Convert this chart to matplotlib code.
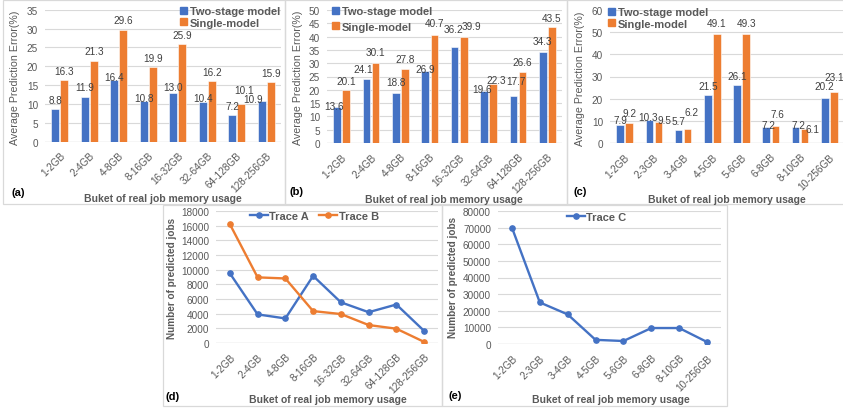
import matplotlib
matplotlib.use('Agg')
import matplotlib.pyplot as plt
from matplotlib.patches import Rectangle
from matplotlib.lines import Line2D
import numpy as np

plt.rcParams['font.family'] = ['Liberation Sans', 'DejaVu Sans']

# ---------------- data ----------------
cats_ab = ['1-2GB', '2-4GB', '4-8GB', '8-16GB', '16-32GB', '32-64GB', '64-128GB', '128-256GB']
cats_c = ['1-2GB', '2-3GB', '3-4GB', '4-5GB', '5-6GB', '6-8GB', '8-10GB', '10-256GB']

a_two = [8.8, 11.9, 16.4, 10.8, 13.0, 10.4, 7.2, 10.9]
a_single = [16.3, 21.3, 29.6, 19.9, 25.9, 16.2, 10.1, 15.9]
b_two = [13.6, 24.1, 18.8, 26.9, 36.2, 19.6, 17.7, 34.3]
b_single = [20.1, 30.1, 27.8, 40.7, 39.9, 22.3, 26.6, 43.5]
c_two = [7.9, 10.3, 5.7, 21.5, 26.1, 7.2, 7.2, 20.2]
c_single = [9.2, 9.5, 6.2, 49.1, 49.3, 7.6, 6.1, 23.1]

trace_a = [9500, 3900, 3350, 9150, 5550, 4200, 5250, 1650]
trace_b = [16200, 8950, 8800, 4350, 3950, 2450, 1950, 150]
trace_c = [70000, 25000, 17800, 2500, 1800, 9600, 9600, 1200]

series_names = ['Two-stage model', 'Single-model']

# data-label offsets in pixels (style only): dy = label centre above bar top, dx = shift
dy_a_two = [9, 10, 3, 3, 6, 4, 9, 2]
dy_a_single = [9, 10, 10, 9, 9, 9, 14, 9]
dx_a_two = [0, 0, 0, 0, 0, 0, 0, -9]
dx_a_single = [0, 0, 0, 0, 0, 0, 3, 0]
dy_b_two = [1, 10, 11, 2, 18, 2, 15, 11]
dy_b_single = [9, 11, 10, 12, 11, 4, 10, 9]
dx_b_two = [-3, -3, 0, 0, -1, -2, 3, 0]
dx_b_single = [0, 0, 0, 0, 8, 3, 0, 0]
dy_c_two = [5, 3, 9, 9, 9, 2, 2, 12]
dy_c_single = [10, 2, 17, 11, 11, 12, 0, 15]
dx_c_two = [0, -1, 0, 0, 0, 2, 3, 0]
dx_c_single = [0, 6, 4, 0, 0, 2, 8, 0]

# ---------------- style ----------------
W, H = 843, 410
BLUE = '#4472C4'
ORANGE = '#ED7D31'
GRID = '#D9D9D9'
TXT = '#595959'
LBL = '#404040'

fig = plt.figure(figsize=(W / 100, H / 100), dpi=100)


def px_axes(l, t, r, b):
    return fig.add_axes([l / W, 1 - b / H, (r - l) / W, (b - t) / H])


def ftext(x, y, s, **kw):
    fig.text(x / W, 1 - y / H, s, **kw)


def frame(x0, y0, x1, y1):
    fig.add_artist(Rectangle((x0 / W, 1 - y1 / H), (x1 - x0) / W, (y1 - y0) / H,
                             transform=fig.transFigure, fill=False,
                             ec=GRID, lw=0.9))


def style_axes(ax, cats, ymax, ystep):
    for s in ax.spines.values():
        s.set_visible(False)
    ax.set_ylim(0, ymax)
    ax.set_yticks(np.arange(0, ymax + ystep / 2, ystep))
    ax.yaxis.grid(True, color=GRID, lw=0.8)
    ax.set_axisbelow(True)
    ax.axhline(0, color='#CFCFCF', lw=0.9, zorder=1)
    ax.tick_params(axis='both', length=0, labelsize=7.2, labelcolor=TXT)
    ax.tick_params(axis='y', pad=5)
    ax.tick_params(axis='x', pad=6)
    x = np.arange(len(cats))
    ax.set_xticks(x)
    ax.set_xticklabels(cats, rotation=45, ha='right', rotation_mode='anchor')
    ax.set_facecolor('none')
    return x


frame(3, 1, 285, 205)
frame(285, 1, 567, 205)
frame(567, 1, 846, 205)
frame(163, 206, 442, 407)
frame(442, 206, 727, 407)


def bar_panel(rect, cats, two, single, ymax, ystep, dyt, dys, dxt, dxs, leg_xy, leg_sp,
              tag, tag_xy, xl_xy, yl_xy, xlim_right=7.5):
    ax = px_axes(*rect)
    x = style_axes(ax, cats, ymax, ystep)
    ax.set_xlim(-0.5, xlim_right)
    w = 0.26
    off = 0.155
    ax.bar(x - off, two, w, color=BLUE, ec='white', lw=0.4, zorder=2)
    ax.bar(x + off, single, w, color=ORANGE, ec='white', lw=0.4, zorder=2)
    for xi, v, d, e in zip(x, two, dyt, dxt):
        ax.annotate(f'{v:.1f}', (xi - off, v), xytext=(e * 0.72, d * 0.72),
                    textcoords='offset points', ha='center', va='center',
                    fontsize=7.2, color=LBL, zorder=4)
    for xi, v, d, e in zip(x, single, dys, dxs):
        ax.annotate(f'{v:.1f}', (xi + off, v), xytext=(e * 0.72, d * 0.72),
                    textcoords='offset points', ha='center', va='center',
                    fontsize=7.2, color=LBL, zorder=4)
    handles = [Rectangle((0, 0), 1, 1, color=BLUE), Rectangle((0, 0), 1, 1, color=ORANGE)]
    fig.legend(handles, series_names, loc='upper left',
               bbox_to_anchor=(leg_xy[0] / W, 1 - leg_xy[1] / H),
               frameon=False, prop=dict(weight='bold', size=8), labelcolor=TXT,
               handlelength=0.6, handleheight=0.6, handletextpad=0.3,
               borderpad=0, borderaxespad=0, labelspacing=leg_sp)
    ftext(*tag_xy, tag, fontsize=8, fontweight='bold', color='black', ha='left', va='center')
    ftext(*xl_xy, 'Buket of real job memory usage', fontsize=7.5, fontweight='bold',
          color=TXT, ha='center', va='center')
    ftext(*yl_xy, 'Average Prediction Error(%)', fontsize=7.7, color=TXT,
          ha='center', va='center', rotation=90)
    return ax


bar_panel((45, 10.7, 281, 142.7), cats_ab, a_two, a_single, 35, 5,
          dy_a_two, dy_a_single, dx_a_two, dx_a_single,
          (180, 7), 0.15, '(a)', (12, 193), (163, 199), (15, 78))
bar_panel((327, 11, 562, 144), cats_ab, b_two, b_single, 50, 5,
          dy_b_two, dy_b_single, dx_b_two, dx_b_single,
          (332, 7), 0.5, '(b)', (289, 192), (444, 200), (298, 78))
bar_panel((610, 11, 843, 144), cats_c, c_two, c_single, 60, 10,
          dy_c_two, dy_c_single, dx_c_two, dx_c_single,
          (608, 8), 0.15, '(c)', (574, 192), (727, 200), (580, 79), xlim_right=7.47)


def line_panel(rect, cats, series, colors, names, ymax, ystep, leg_xy, tag, tag_xy, xl_xy, yl_xy):
    ax = px_axes(*rect)
    x = style_axes(ax, cats, ymax, ystep)
    ax.set_xlim(-0.5, 7.5)
    for s, c in zip(series, colors):
        ax.plot(x, s, color=c, lw=1.7, marker='o', ms=3.8, zorder=3)
    handles = [Line2D([], [], color=c, lw=1.7, marker='o', ms=3.8) for c in colors]
    fig.legend(handles, names, loc='upper left',
               bbox_to_anchor=(leg_xy[0] / W, 1 - leg_xy[1] / H), ncol=len(names),
               frameon=False, prop=dict(weight='bold', size=8), labelcolor=TXT,
               handlelength=1.6, handletextpad=0.15, columnspacing=0.9,
               borderpad=0, borderaxespad=0)
    ftext(*tag_xy, tag, fontsize=8, fontweight='bold', color='black', ha='left', va='center')
    ftext(*xl_xy, 'Buket of real job memory usage', fontsize=7.5, fontweight='bold',
          color=TXT, ha='center', va='center')
    ftext(*yl_xy, 'Number of predicted jobs', fontsize=7.2, fontweight='bold', color=TXT,
          ha='center', va='center', rotation=90)
    return ax


line_panel((216, 212, 438, 344), cats_ab, [trace_a, trace_b], [BLUE, ORANGE],
           ['Trace A', 'Trace B'], 18000, 2000, (250, 212), '(d)', (166, 397),
           (328, 400), (172, 278))
line_panel((498, 212, 721, 345), cats_c, [trace_c], [BLUE],
           ['Trace C'], 80000, 10000, (567, 213), '(e)', (449, 396),
           (611, 400), (453, 277))

fig.savefig('out.png', dpi=100)
